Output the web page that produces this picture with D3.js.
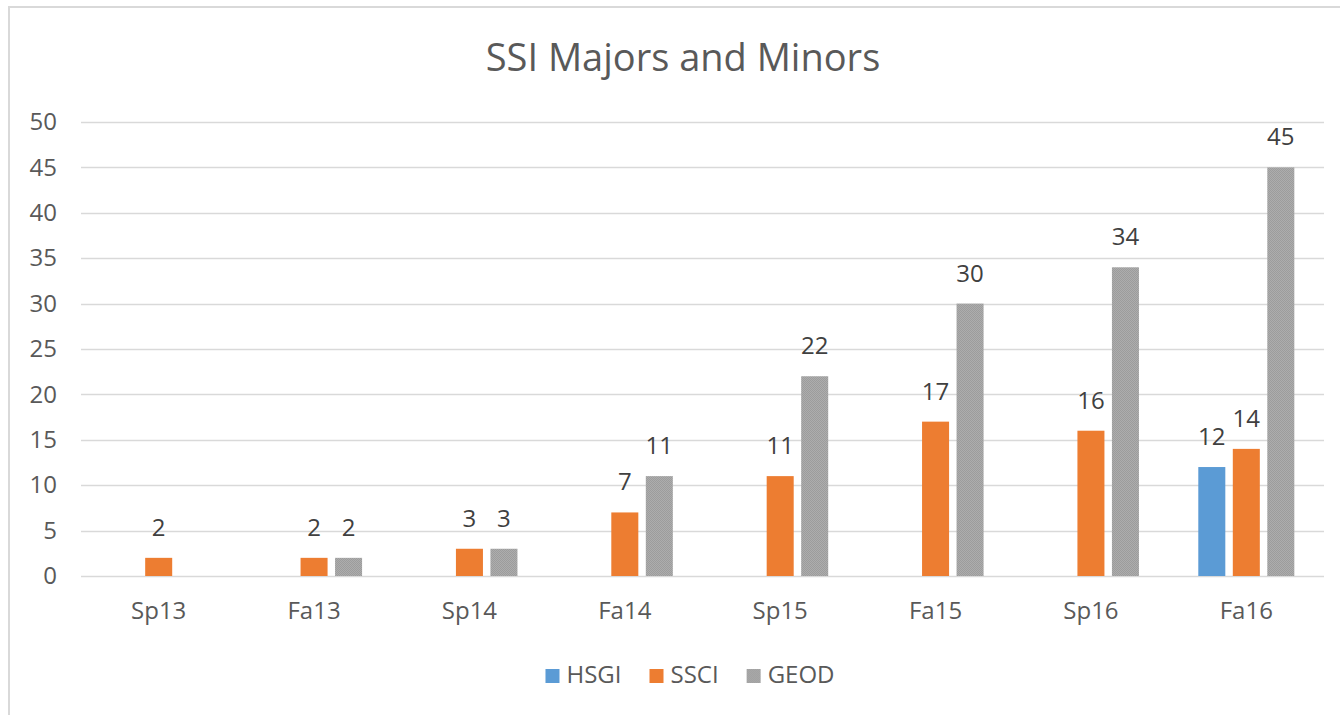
<!DOCTYPE html>
<html>
<head>
<meta charset="utf-8">
<script src="https://cdn.jsdelivr.net/npm/d3@7"></script>
<style>
  body { margin: 0; background: #fff; }
  svg { display: block; font-family: "Open Sans", sans-serif; }
</style>
</head>
<body>
<div id="chart"></div>
<script>
// Chart data
const categories = ["Sp13", "Fa13", "Sp14", "Fa14", "Sp15", "Fa15", "Sp16", "Fa16"];
const seriesNames = ["HSGI", "SSCI", "GEOD"];
const hsgi = [0, 0, 0, 0, 0, 0, 0, 12];
const ssci = [2, 2, 3, 7, 11, 17, 16, 14];
const geod = [0, 2, 3, 11, 22, 30, 34, 45];
const yTicks = [0, 5, 10, 15, 20, 25, 30, 35, 40, 45, 50];
const title = "SSI Majors and Minors";

const seriesValues = { HSGI: hsgi, SSCI: ssci, GEOD: geod };
const colors = { HSGI: "#5b9bd5", SSCI: "#ed7d31", GEOD: "url(#geodPattern)" };

const width = 1340;
const height = 715;
const margin = { left: 81, right: 16, top: 122, bottom: 139 };

const svg = d3.select("#chart")
    .append("svg")
    .attr("width", width)
    .attr("height", height);

// dithered grey fill for GEOD bars
const pat = svg.append("defs").append("pattern")
    .attr("id", "geodPattern")
    .attr("width", 2).attr("height", 2)
    .attr("patternUnits", "userSpaceOnUse");
pat.append("rect").attr("width", 2).attr("height", 2).attr("fill", "#adadad");
pat.append("rect").attr("width", 1).attr("height", 1).attr("fill", "#9c9c9c");
pat.append("rect").attr("x", 1).attr("y", 1).attr("width", 1).attr("height", 1).attr("fill", "#9c9c9c");

// chart frame (only left and top edges visible in the picture)
svg.append("rect")
    .attr("x", 9).attr("y", 7)
    .attr("width", width + 20).attr("height", height + 20)
    .attr("fill", "none")
    .attr("stroke", "#d9d9d9")
    .attr("stroke-width", 2);

// Title
svg.append("text")
    .attr("x", 683)
    .attr("y", 71)
    .attr("text-anchor", "middle")
    .attr("font-size", 38)
    .attr("fill", "#595959")
    .text(title);

// Scales
const x = d3.scaleBand()
    .domain(categories)
    .range([margin.left, width - margin.right])
    .paddingInner(0.382)
    .paddingOuter(0.191);

const xInner = d3.scaleBand()
    .domain(seriesNames)
    .range([0, x.bandwidth()])
    .paddingInner(0.217)
    .paddingOuter(0);

const y = d3.scaleLinear()
    .domain([0, 50])
    .range([height - margin.bottom, margin.top]);

// Gridlines
svg.append("g")
    .selectAll("line")
    .data(yTicks)
    .enter().append("line")
    .attr("x1", margin.left)
    .attr("x2", width - margin.right)
    .attr("y1", d => Math.round(y(d)) + 0.5)
    .attr("y2", d => Math.round(y(d)) + 0.5)
    .attr("stroke", "#d9d9d9")
    .attr("stroke-width", 1.3);

// Y axis labels
const yAxis = d3.axisLeft(y).tickValues(yTicks).tickSize(0).tickPadding(24);
const yg = svg.append("g")
    .attr("transform", `translate(${margin.left},0)`)
    .call(yAxis);
yg.select(".domain").remove();
yg.selectAll("text")
    .attr("font-size", 24)
    .attr("font-family", "Open Sans, sans-serif")
    .attr("fill", "#595959");

// X axis labels
const xAxis = d3.axisBottom(x).tickSize(0).tickPadding(26);
const xg = svg.append("g")
    .attr("transform", `translate(0,${height - margin.bottom})`)
    .call(xAxis);
xg.select(".domain").remove();
xg.selectAll("text")
    .attr("font-size", 24)
    .attr("font-family", "Open Sans, sans-serif")
    .attr("fill", "#595959");

// Bars
const rows = [];
categories.forEach((c, i) => {
    seriesNames.forEach(s => {
        const v = seriesValues[s][i];
        if (v > 0) rows.push({ cat: c, series: s, value: v });
    });
});

svg.append("g")
    .selectAll("rect")
    .data(rows)
    .enter().append("rect")
    .attr("x", d => x(d.cat) + xInner(d.series))
    .attr("y", d => y(d.value))
    .attr("width", xInner.bandwidth())
    .attr("height", d => y(0) - y(d.value))
    .attr("fill", d => colors[d.series]);

// Data labels
svg.append("g")
    .selectAll("text")
    .data(rows)
    .enter().append("text")
    .attr("x", d => x(d.cat) + xInner(d.series) + xInner.bandwidth() / 2)
    .attr("y", d => y(d.value) - 22)
    .attr("text-anchor", "middle")
    .attr("font-size", 24)
    .attr("fill", "#404040")
    .text(d => d.value);

// Legend
const legend = svg.append("g");
let lx = 0;
seriesNames.forEach(s => {
    const item = legend.append("g").attr("transform", `translate(${lx},0)`);
    item.append("rect")
        .attr("x", 0).attr("y", -14)
        .attr("width", 14).attr("height", 14)
        .attr("fill", colors[s]);
    const t = item.append("text")
        .attr("x", 21)
        .attr("y", 0)
        .attr("font-size", 24)
        .attr("fill", "#595959")
        .text(s);
    lx += 21 + t.node().getComputedTextLength() + 28;
});
const legendWidth = lx - 28;
legend.attr("transform", `translate(${690 - legendWidth / 2},683)`);
</script>
</body>
</html>
